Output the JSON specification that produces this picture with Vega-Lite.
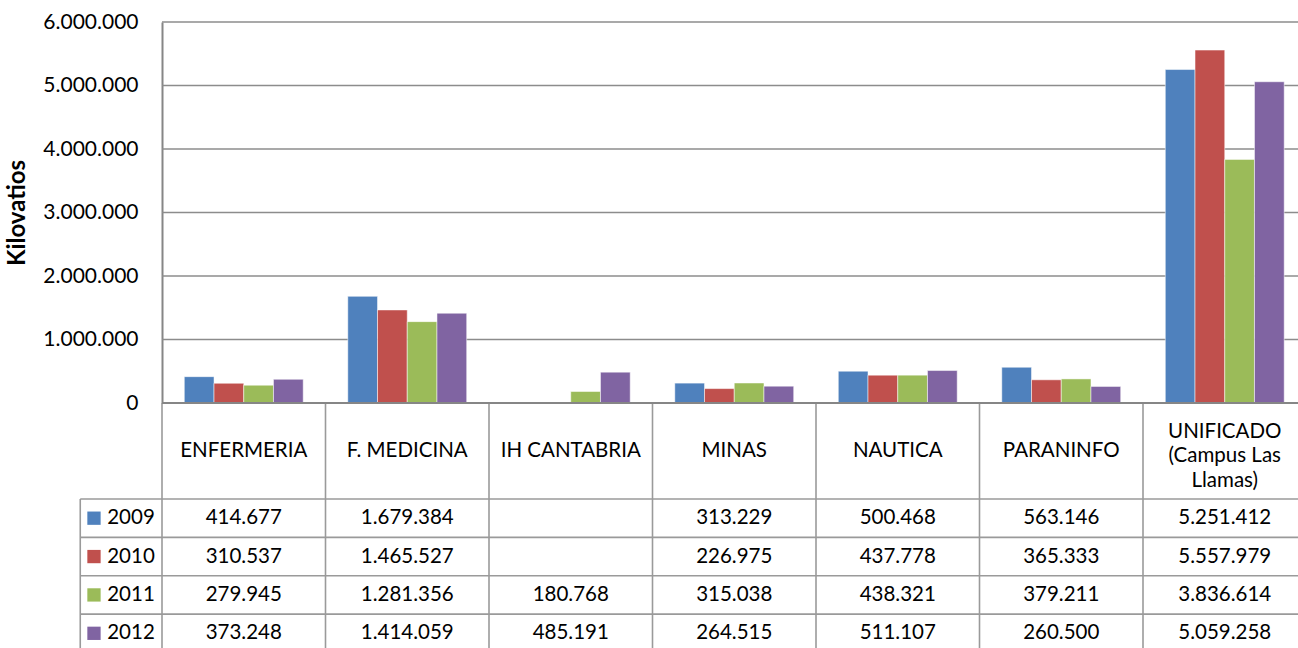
{
  "$schema": "https://vega.github.io/schema/vega-lite/v6.json",
  "width": 1218,
  "height": 626,
  "autosize": {"type": "none"},
  "padding": {"left": 80, "top": 22, "right": 0, "bottom": 0},
  "background": "#ffffff",
  "config": {
    "view": {"stroke": null},
    "locale": {"number": {"decimal": ",", "thousands": ".", "grouping": [3], "currency": ["", " €"]}},
    "text": {"font": "Lato", "fontSize": 20.5, "color": "#000000"}
  },
  "datasets": {
    "bars": [
      {"cat": "ENFERMERIA", "year": "2009", "value": 414677},
      {"cat": "ENFERMERIA", "year": "2010", "value": 310537},
      {"cat": "ENFERMERIA", "year": "2011", "value": 279945},
      {"cat": "ENFERMERIA", "year": "2012", "value": 373248},
      {"cat": "F. MEDICINA", "year": "2009", "value": 1679384},
      {"cat": "F. MEDICINA", "year": "2010", "value": 1465527},
      {"cat": "F. MEDICINA", "year": "2011", "value": 1281356},
      {"cat": "F. MEDICINA", "year": "2012", "value": 1414059},
      {"cat": "IH CANTABRIA", "year": "2011", "value": 180768},
      {"cat": "IH CANTABRIA", "year": "2012", "value": 485191},
      {"cat": "MINAS", "year": "2009", "value": 313229},
      {"cat": "MINAS", "year": "2010", "value": 226975},
      {"cat": "MINAS", "year": "2011", "value": 315038},
      {"cat": "MINAS", "year": "2012", "value": 264515},
      {"cat": "NAUTICA", "year": "2009", "value": 500468},
      {"cat": "NAUTICA", "year": "2010", "value": 437778},
      {"cat": "NAUTICA", "year": "2011", "value": 438321},
      {"cat": "NAUTICA", "year": "2012", "value": 511107},
      {"cat": "PARANINFO", "year": "2009", "value": 563146},
      {"cat": "PARANINFO", "year": "2010", "value": 365333},
      {"cat": "PARANINFO", "year": "2011", "value": 379211},
      {"cat": "PARANINFO", "year": "2012", "value": 260500},
      {"cat": "UNIFICADO (Campus Las Llamas)", "year": "2009", "value": 5251412},
      {"cat": "UNIFICADO (Campus Las Llamas)", "year": "2010", "value": 5557979},
      {"cat": "UNIFICADO (Campus Las Llamas)", "year": "2011", "value": 3836614},
      {"cat": "UNIFICADO (Campus Las Llamas)", "year": "2012", "value": 5059258}
    ],
    "cats": [
      {"cat": "ENFERMERIA", "label": "ENFERMERIA"},
      {"cat": "F. MEDICINA", "label": "F. MEDICINA"},
      {"cat": "IH CANTABRIA", "label": "IH CANTABRIA"},
      {"cat": "MINAS", "label": "MINAS"},
      {"cat": "NAUTICA", "label": "NAUTICA"},
      {"cat": "PARANINFO", "label": "PARANINFO"},
      {"cat": "UNIFICADO (Campus Las Llamas)", "label": "UNIFICADO\n(Campus Las\nLlamas)"}
    ],
    "years": [{"year": "2009"}, {"year": "2010"}, {"year": "2011"}, {"year": "2012"}],
    "ticks": [{"v": 0}, {"v": 1000000}, {"v": 2000000}, {"v": 3000000}, {"v": 4000000}, {"v": 5000000}, {"v": 6000000}]
  },
  "resolve": {"scale": {"x": "independent", "y": "independent", "color": "independent", "xOffset": "independent"}},
  "layer": [
    {
      "data": {"name": "ticks"},
      "mark": {"type": "rule", "color": "#8c8c8c", "strokeWidth": 1.6},
      "encoding": {
        "y": {"field": "v", "type": "quantitative", "scale": {"domain": [0, 6000000], "range": [381, 0], "nice": false}, "axis": null},
        "x": {"datum": 0, "type": "quantitative", "scale": {"domain": [0, 7], "range": [82, 1226.5]}, "axis": null},
        "x2": {"datum": 7}
      }
    },
    {
      "data": {"name": "bars"},
      "mark": {"type": "bar", "stroke": "#ffffff", "strokeOpacity": 0.5, "strokeWidth": 1},
      "encoding": {
        "x": {"field": "cat", "type": "nominal", "sort": null, "scale": {"domain": ["ENFERMERIA", "F. MEDICINA", "IH CANTABRIA", "MINAS", "NAUTICA", "PARANINFO", "UNIFICADO (Campus Las Llamas)"], "range": [82, 1226.5], "paddingInner": 0, "paddingOuter": 0}, "axis": null},
        "xOffset": {"field": "year", "type": "nominal", "scale": {"domain": ["2009", "2010", "2011", "2012"], "paddingInner": 0, "paddingOuter": 0.75}},
        "y": {"field": "value", "type": "quantitative", "scale": {"domain": [0, 6000000], "range": [381, 0], "nice": false},
          "axis": {"values": [0, 1000000, 2000000, 3000000, 4000000, 5000000, 6000000], "format": ",.0f", "ticks": false, "grid": false,
            "domain": true, "domainColor": "#868686", "domainWidth": 2, "offset": -82,
            "labelFont": "Lato", "labelFontSize": 21, "labelColor": "#000000", "labelPadding": 24,
            "title": "Kilovatios", "titleFont": "Lato", "titleFontSize": 24, "titleFontWeight": "bold", "titleColor": "#000000", "titlePadding": 13}},
        "color": {"field": "year", "type": "nominal", "scale": {"domain": ["2009", "2010", "2011", "2012"], "range": ["#4F81BD", "#C0504D", "#9BBB59", "#8064A2"]}, "legend": null}
      }
    },
    {
      "data": {"name": "cats"},
      "mark": {"type": "rule", "color": "#9a9a9a", "strokeWidth": 1.6},
      "encoding": {
        "x": {"field": "cat", "type": "nominal", "sort": null, "bandPosition": 0, "scale": {"domain": ["ENFERMERIA", "F. MEDICINA", "IH CANTABRIA", "MINAS", "NAUTICA", "PARANINFO", "UNIFICADO (Campus Las Llamas)"], "range": [82, 1226.5], "paddingInner": 0, "paddingOuter": 0}, "axis": null},
        "y": {"datum": 0, "type": "quantitative", "scale": {"domain": [0, 6.5], "range": [381, 630.5]}, "axis": null},
        "y2": {"datum": 6.5}
      }
    },
    {
      "data": {"name": "ticks"},
      "transform": [{"filter": "datum.v === 0"}],
      "mark": {"type": "rule", "color": "#868686", "strokeWidth": 2},
      "encoding": {
        "y": {"field": "v", "type": "quantitative", "scale": {"domain": [0, 6000000], "range": [381, 0], "nice": false}, "axis": null},
        "x": {"datum": 0, "type": "quantitative", "scale": {"domain": [0, 7], "range": [82, 1226.5]}, "axis": null},
        "x2": {"datum": 7}
      }
    },
    {
      "data": {"name": "years"},
      "mark": {"type": "rule", "color": "#9a9a9a", "strokeWidth": 1.6},
      "encoding": {
        "y": {"field": "year", "type": "nominal", "bandPosition": 0, "scale": {"domain": ["2009", "2010", "2011", "2012"], "range": [477, 630.5], "paddingInner": 0, "paddingOuter": 0}, "axis": null},
        "x": {"datum": -0.5, "type": "quantitative", "scale": {"domain": [0, 7], "range": [82, 1226.5]}, "axis": null},
        "x2": {"datum": 7}
      }
    },
    {
      "data": {"values": [{"k": "border"}]},
      "mark": {"type": "rule", "color": "#9a9a9a", "strokeWidth": 1.6},
      "encoding": {
        "x": {"datum": -0.5, "type": "quantitative", "scale": {"domain": [0, 7], "range": [82, 1226.5]}, "axis": null},
        "y": {"datum": 2.5, "type": "quantitative", "scale": {"domain": [0, 6.5], "range": [381, 630.5]}, "axis": null},
        "y2": {"datum": 6.5}
      }
    },
    {
      "data": {"name": "cats"},
      "transform": [{"filter": "datum.cat !== 'UNIFICADO (Campus Las Llamas)'"}],
      "mark": {"type": "text", "align": "center", "baseline": "middle"},
      "encoding": {
        "x": {"field": "cat", "type": "nominal", "sort": null, "scale": {"domain": ["ENFERMERIA", "F. MEDICINA", "IH CANTABRIA", "MINAS", "NAUTICA", "PARANINFO", "UNIFICADO (Campus Las Llamas)"], "range": [82, 1226.5], "paddingInner": 0, "paddingOuter": 0}, "axis": null},
        "y": {"datum": 1.25, "type": "quantitative", "scale": {"domain": [0, 6.5], "range": [381, 630.5]}, "axis": null},
        "text": {"field": "label"}
      }
    },
    {
      "data": {"name": "cats"},
      "transform": [{"filter": "datum.cat === 'UNIFICADO (Campus Las Llamas)'"}],
      "mark": {"type": "text", "align": "center", "baseline": "middle", "lineBreak": "\n", "lineHeight": 24.5},
      "encoding": {
        "x": {"field": "cat", "type": "nominal", "sort": null, "scale": {"domain": ["ENFERMERIA", "F. MEDICINA", "IH CANTABRIA", "MINAS", "NAUTICA", "PARANINFO", "UNIFICADO (Campus Las Llamas)"], "range": [82, 1226.5], "paddingInner": 0, "paddingOuter": 0}, "axis": null},
        "y": {"datum": 0.755, "type": "quantitative", "scale": {"domain": [0, 6.5], "range": [381, 630.5]}, "axis": null},
        "text": {"field": "label"}
      }
    },
    {
      "data": {"name": "bars"},
      "mark": {"type": "text", "align": "center", "baseline": "middle"},
      "encoding": {
        "x": {"field": "cat", "type": "nominal", "sort": null, "scale": {"domain": ["ENFERMERIA", "F. MEDICINA", "IH CANTABRIA", "MINAS", "NAUTICA", "PARANINFO", "UNIFICADO (Campus Las Llamas)"], "range": [82, 1226.5], "paddingInner": 0, "paddingOuter": 0}, "axis": null},
        "y": {"field": "year", "type": "nominal", "scale": {"domain": ["2009", "2010", "2011", "2012"], "range": [477, 630.5], "paddingInner": 0, "paddingOuter": 0}, "axis": null},
        "text": {"field": "value", "type": "quantitative", "format": ",.0f"}
      }
    },
    {
      "data": {"name": "years"},
      "mark": {"type": "point", "shape": "square", "filled": true, "opacity": 1, "size": 177},
      "encoding": {
        "x": {"datum": -0.416, "type": "quantitative", "scale": {"domain": [0, 7], "range": [82, 1226.5]}, "axis": null},
        "y": {"field": "year", "type": "nominal", "scale": {"domain": ["2009", "2010", "2011", "2012"], "range": [477, 630.5], "paddingInner": 0, "paddingOuter": 0}, "axis": null},
        "color": {"field": "year", "type": "nominal", "scale": {"domain": ["2009", "2010", "2011", "2012"], "range": ["#4F81BD", "#C0504D", "#9BBB59", "#8064A2"]}, "legend": null}
      }
    },
    {
      "data": {"name": "years"},
      "mark": {"type": "text", "align": "left", "baseline": "middle"},
      "encoding": {
        "x": {"datum": -0.335, "type": "quantitative", "scale": {"domain": [0, 7], "range": [82, 1226.5]}, "axis": null},
        "y": {"field": "year", "type": "nominal", "scale": {"domain": ["2009", "2010", "2011", "2012"], "range": [477, 630.5], "paddingInner": 0, "paddingOuter": 0}, "axis": null},
        "text": {"field": "year"}
      }
    }
  ]
}
